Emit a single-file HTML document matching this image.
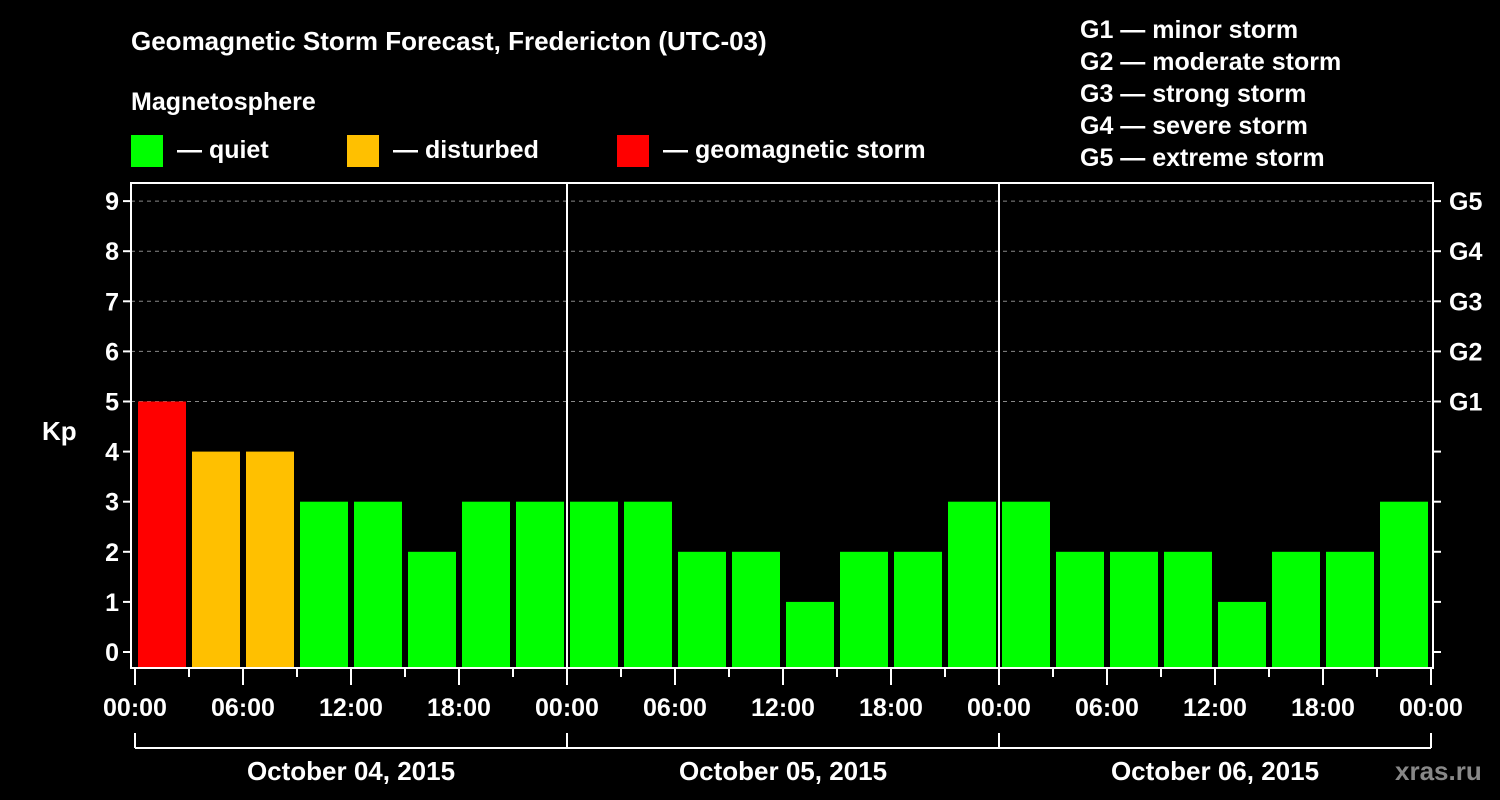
<!DOCTYPE html>
<html><head><meta charset="utf-8"><style>
body{margin:0;background:#000;}
svg{display:block;font-family:"Liberation Sans",Arial,sans-serif;font-weight:bold;}
</style></head><body>
<svg id="c" width="1500" height="800" viewBox="0 0 1500 800">
<rect width="1500" height="800" fill="#000"/>
<text x="131" y="50" fill="#fff" font-size="26">Geomagnetic Storm Forecast, Fredericton (UTC-03)</text>
<text x="131" y="110" fill="#fff" font-size="25">Magnetosphere</text>
<g><rect x="131" y="135" width="32" height="32" fill="#00ff00"/><text x="177" y="158" fill="#fff" font-size="25">— quiet</text></g>
<g><rect x="347" y="135" width="32" height="32" fill="#ffc000"/><text x="393" y="158" fill="#fff" font-size="25">— disturbed</text></g>
<g><rect x="617" y="135" width="32" height="32" fill="#ff0000"/><text x="663" y="158" fill="#fff" font-size="25">— geomagnetic storm</text></g>
<g fill="#fff" font-size="25">
<text x="1080" y="38">G1 — minor storm</text>
<text x="1080" y="70">G2 — moderate storm</text>
<text x="1080" y="102">G3 — strong storm</text>
<text x="1080" y="134">G4 — severe storm</text>
<text x="1080" y="166">G5 — extreme storm</text>
</g>
<text x="42" y="440" fill="#fff" font-size="26">Kp</text>
<text x="1395" y="780" fill="#888" font-size="26">xras.ru</text>
<g id="grid"></g><g id="bars"></g><g id="axes"></g>
</svg>
<script>
const kpValues=[5,4,4,3,3,2,3,3,3,3,2,2,1,2,2,3,3,2,2,2,1,2,2,3];
const timeLabels=["00:00","06:00","12:00","18:00"];
const dayLabels=["October 04, 2015","October 05, 2015","October 06, 2015"];
const gLabels=["G1","G2","G3","G4","G5"];
const yTicks=[0,1,2,3,4,5,6,7,8,9];
const NS="http://www.w3.org/2000/svg";
const X0=135,SLOT=54,Y0=652,UNIT=50.1,BOTTOM=668,LEFT=131,RIGHT=1433,TOP=183;
const xs=i=>X0+i*SLOT;
const ys=v=>Y0-v*UNIT;
function mk(p,tag,a){const e=document.createElementNS(NS,tag);for(const k in a)e.setAttribute(k,a[k]);p.appendChild(e);return e;}
const grid=document.getElementById('grid'),bars=document.getElementById('bars'),axes=document.getElementById('axes');
yTicks.forEach(v=>{
 if(v>=5){const l=mk(grid,'line',{x1:LEFT,x2:RIGHT,y1:ys(v),y2:ys(v),stroke:'#888','stroke-dasharray':'4,4','stroke-width':1});
 
 }
 mk(axes,'line',{x1:LEFT-8,x2:LEFT,y1:ys(v),y2:ys(v),stroke:'#fff','stroke-width':2});
 mk(axes,'line',{x1:RIGHT,x2:RIGHT+8,y1:ys(v),y2:ys(v),stroke:'#fff','stroke-width':2});
 const t=mk(axes,'text',{x:LEFT-12,y:ys(v)+9,fill:'#fff','font-size':25,'text-anchor':'end'});t.textContent=v;
 
 
});
gLabels.forEach((g,i)=>{const t=mk(axes,'text',{x:RIGHT+16,y:ys(5+i)+9,fill:'#fff','font-size':25});t.textContent=g;
 
 });
kpValues.forEach((v,i)=>{
 const c=v>=5?'#ff0000':(v>=4?'#ffc000':'#00ff00');
 const r=mk(bars,'rect',{x:xs(i)+3,y:ys(v),width:SLOT-6,height:BOTTOM-ys(v),fill:c});
 
 
});
mk(axes,'rect',{x:LEFT,y:TOP,width:RIGHT-LEFT,height:BOTTOM-TOP,fill:'none',stroke:'#fff','stroke-width':2});
for(let d=1;d<3;d++)mk(axes,'line',{x1:xs(d*8),x2:xs(d*8),y1:TOP,y2:BOTTOM,stroke:'#fff','stroke-width':2});
for(let i=0;i<=24;i++){
 const major=i%2==0;
 mk(axes,'line',{x1:xs(i),x2:xs(i),y1:BOTTOM,y2:BOTTOM+(major?17:9),stroke:'#fff','stroke-width':2});
 if(major){const t=mk(axes,'text',{x:xs(i),y:716,fill:'#fff','font-size':25,'text-anchor':'middle'});t.textContent=timeLabels[(i/2)%4];
 
 }
}
mk(axes,'line',{x1:xs(0),x2:xs(24),y1:748,y2:748,stroke:'#fff','stroke-width':2});
for(let d=0;d<=3;d++)mk(axes,'line',{x1:xs(d*8),x2:xs(d*8),y1:733,y2:748,stroke:'#fff','stroke-width':2});
dayLabels.forEach((s,d)=>{const t=mk(axes,'text',{x:xs(d*8+4),y:780,fill:'#fff','font-size':26,'text-anchor':'middle'});t.textContent=s;
 
 });
</script>
</body></html>
